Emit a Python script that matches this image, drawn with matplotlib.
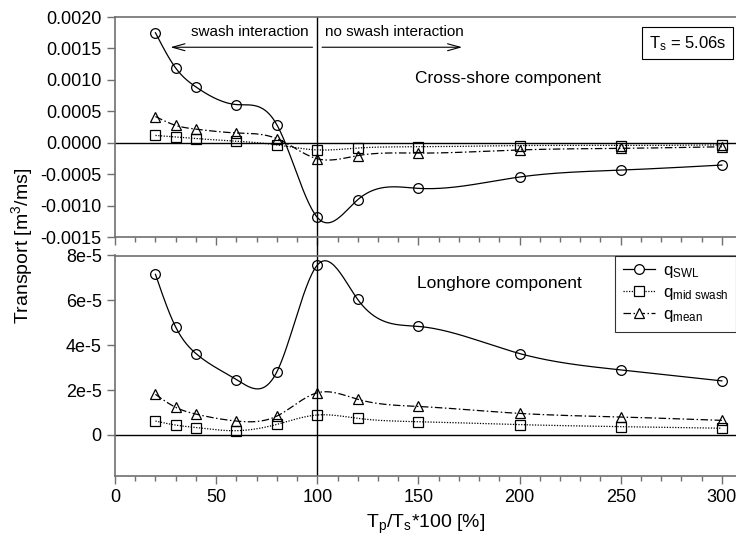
import numpy as np
import matplotlib
matplotlib.use("Agg")
import matplotlib.pyplot as plt

plt.rcParams['font.family'] = ['Liberation Sans', 'DejaVu Sans']
plt.rcParams['mathtext.fontset'] = 'custom'
plt.rcParams['mathtext.rm'] = 'Liberation Sans'
plt.rcParams['mathtext.it'] = 'Liberation Sans'

# T_p/T_s * 100 [%]
ratio = [20, 30, 40, 60, 80, 100, 120, 150, 200, 250, 300]

# cross-shore transport [m3/ms]
cross_swl = [0.00175, 0.00119, 0.00089, 0.00061, 0.00029, -0.00118, -0.00090,
             -0.00072, -0.00054, -0.00043, -0.00035]
cross_mid = [0.00012, 0.000095, 0.00007, 0.00003, -0.00003, -0.00011, -0.00008,
             -0.00006, -0.00004, -0.00004, -0.00003]
cross_mean = [0.00042, 0.00028, 0.00022, 0.00016, 0.00007, -0.00025, -0.00020,
              -0.00016, -0.00011, -0.000085, -0.00006]

# longshore transport [m3/ms]
long_swl = [7.16e-5, 4.81e-5, 3.63e-5, 2.47e-5, 2.81e-5, 7.57e-5, 6.04e-5,
            4.84e-5, 3.63e-5, 2.9e-5, 2.41e-5]
long_mid = [6.2e-6, 4.4e-6, 3.3e-6, 1.9e-6, 4.7e-6, 8.9e-6, 7.4e-6,
            5.9e-6, 4.6e-6, 3.7e-6, 3.0e-6]
long_mean = [1.81e-5, 1.23e-5, 9.3e-6, 6.2e-6, 8.4e-6, 1.88e-5, 1.59e-5,
             1.27e-5, 9.6e-6, 8.0e-6, 6.5e-6]


def spline(x, y, n=400):
    # natural cubic spline through the points, for the smooth line only
    x = np.asarray(x, float)
    y = np.asarray(y, float)
    k = len(x)
    h = np.diff(x)
    A = np.zeros((k, k))
    b = np.zeros(k)
    A[0, 0] = A[-1, -1] = 1
    for i in range(1, k - 1):
        A[i, i - 1] = h[i - 1]
        A[i, i] = 2 * (h[i - 1] + h[i])
        A[i, i + 1] = h[i]
        b[i] = 6 * ((y[i + 1] - y[i]) / h[i] - (y[i] - y[i - 1]) / h[i - 1])
    M = np.linalg.solve(A, b)
    xs = np.linspace(x[0], x[-1], n)
    j = np.clip(np.searchsorted(x, xs) - 1, 0, k - 2)
    t0 = x[j + 1] - xs
    t1 = xs - x[j]
    hj = h[j]
    ys = (M[j] * t0**3 + M[j + 1] * t1**3) / (6 * hj) \
        + (y[j] / hj - M[j] * hj / 6) * t0 + (y[j + 1] / hj - M[j + 1] * hj / 6) * t1
    return xs, ys


styles = [('o', '-', r'q$_\mathrm{SWL}$'),
          ('s', (0, (1, 1.2)), r'q$_\mathrm{mid\ swash}$'),
          ('^', (0, (6, 2, 1.2, 2)), r'q$_\mathrm{mean}$')]

fig = plt.figure(figsize=(7.36, 5.43), dpi=100)
ax1 = fig.add_axes([115/736, 1 - 237.5/543, 1 - 115/736, 220.5/543])
ax2 = fig.add_axes([115/736, 1 - 476/543, 1 - 115/736, 220.5/543])

spine_col = '#707070'
for ax in (ax1, ax2):
    ax.set_xlim(0, 307)
    ax.spines['right'].set_visible(False)
    for s in ('left', 'top', 'bottom'):
        ax.spines[s].set_color(spine_col)
        ax.spines[s].set_linewidth(1.2)
    ax.set_xticks(np.arange(0, 301, 50))
    ax.set_xticks(np.arange(0, 301, 10), minor=True)
    ax.tick_params(axis='both', which='major', direction='out', length=6, width=1,
                   color=spine_col, labelsize=13)
    ax.tick_params(axis='x', which='minor', direction='out', length=3.5, width=1, color=spine_col)
    ax.axhline(0, color='black', lw=1)
    ax.axvline(100, color='black', lw=1)

for ax, series in ((ax1, (cross_swl, cross_mid, cross_mean)),
                   (ax2, (long_swl, long_mid, long_mean))):
    for vals, (mk, ls, lab) in zip(series, styles):
        xs, ys = spline(ratio, vals)
        ax.plot(xs, ys, color='black', lw=0.9, ls=ls)
        ax.plot(ratio, vals, ls='none', marker=mk, ms=7 if mk != 's' else 6.5,
                mfc='none', mec='black', mew=0.9)
        ax.plot([], [], color='black', lw=0.9, ls=ls, marker=mk, ms=7 if mk != 's' else 6.5,
                mfc='white', mec='black', mew=0.9, label=lab)

# top panel
ax1.set_ylim(-0.0015, 0.0020)
ax1.set_yticks(np.arange(-0.0015, 0.00201, 0.0005))
ax1.set_yticklabels(['%.4f' % v for v in np.arange(-0.0015, 0.00201, 0.0005)])
ax1.tick_params(axis='x', labelbottom=False)
ax1.axvline(100, ymin=-0.09, ymax=0, color='black', lw=1, clip_on=False)

ax1.annotate('', xy=(26, 0.00152), xytext=(99, 0.00152),
             arrowprops=dict(arrowstyle='->,head_length=0.9,head_width=0.25', color='black', lw=0.8))
ax1.annotate('', xy=(173, 0.00152), xytext=(101, 0.00152),
             arrowprops=dict(arrowstyle='->,head_length=0.9,head_width=0.25', color='black', lw=0.8))
ax1.text(95.5, 0.00176, 'swash interaction', ha='right', va='center', fontsize=11)
ax1.text(104, 0.00176, 'no swash interaction', ha='left', va='center', fontsize=11)
ax1.text(148.5, 0.00103, 'Cross-shore component', ha='left', va='center', fontsize=12.5)
ax1.text(283, 0.00158, r'T$_\mathrm{s}$ = 5.06s', ha='center', va='center', fontsize=12,
         bbox=dict(boxstyle='square,pad=0.4', fc='white', ec='black', lw=0.8))

# bottom panel
ax2.set_ylim(-1.83e-5, 8e-5)
ax2.set_yticks([0, 2e-5, 4e-5, 6e-5, 8e-5])
ax2.set_yticklabels(['0', '2e-5', '4e-5', '6e-5', '8e-5'])
ax2.text(149.5, 6.77e-5, 'Longhore component', ha='left', va='center', fontsize=12.5)
leg = ax2.legend(loc='upper right', bbox_to_anchor=(1.0, 1.0), fontsize=12, frameon=True,
                 fancybox=False, edgecolor='black', borderaxespad=0, handlelength=1.9,
                 labelspacing=0.3, handletextpad=0.5, borderpad=0.45)
leg.get_frame().set_linewidth(0.8)

ax2.set_xlabel(r'T$_\mathrm{p}$/T$_\mathrm{s}$*100 [%]', fontsize=14, labelpad=5)
fig.text(22/736, 1 - 246/543, r'Transport [m$^\mathrm{3}$/ms]', rotation=90,
         ha='center', va='center', fontsize=14)

fig.savefig('out.png', dpi=100)
